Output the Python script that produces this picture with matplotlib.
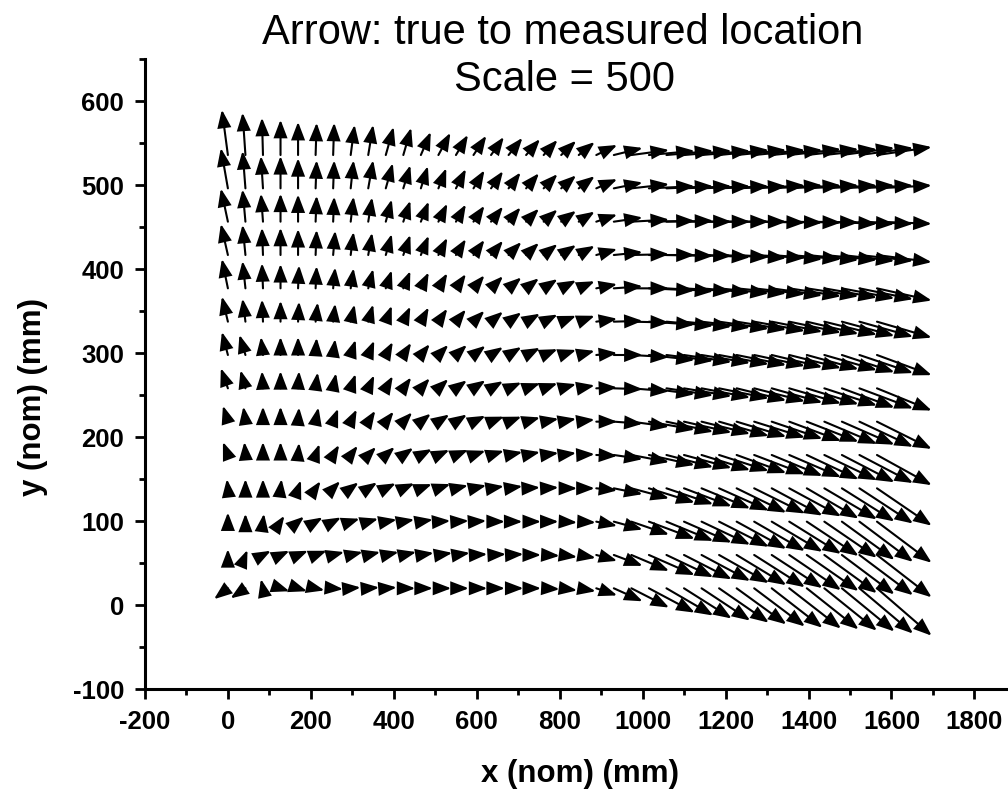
import numpy as np
import matplotlib
matplotlib.use('Agg')
import matplotlib.pyplot as plt
from matplotlib.patches import FancyArrowPatch

plt.rcParams['font.family'] = ['Liberation Sans', 'DejaVu Sans']
plt.rcParams['axes.unicode_minus'] = False

SCALE = 500  # arrows are drawn 500x the real offset

# nominal (true) grid, mm
x_true = [0.0, 42.3, 84.6, 126.9, 169.2, 211.5, 253.8, 296.1, 338.4, 380.7,
          423.0, 465.3, 507.6, 549.9, 592.2, 634.5, 676.8, 719.1, 761.4, 803.7,
          846.0, 888.3, 930.6, 972.9, 1015.2, 1057.5, 1099.8, 1142.1, 1184.4,
          1226.7, 1269.0, 1311.3, 1353.6, 1395.9, 1438.2, 1480.5, 1522.8, 1565.1]
y_true = [20.0, 59.7, 99.4, 139.1, 178.8, 218.5, 258.2, 297.9, 337.6, 377.3,
          417.0, 456.7, 496.4, 536.1]

# measured minus true, micrometres; one list per row, bottom row first
dx_um = [
    [-67, -72, -10, 43, 43, 43, 48, 48, 53, 53, 58, 58, 62, 62, 67, 67, 72, 72, 77, 77, 82,
     101, 139, 182, 221, 226, 230, 235, 240, 240, 245, 245, 250, 250, 254, 254, 259, 264],
    [0, 10, 38, 43, 48, 53, 53, 58, 58, 62, 62, 62, 67, 67, 67, 72, 72, 72, 77, 77, 82,
     101, 139, 182, 221, 226, 230, 235, 240, 240, 245, 245, 250, 250, 254, 254, 259, 264],
    [0, 0, 5, 19, 29, 34, 38, 43, 48, 53, 53, 58, 58, 62, 62, 67, 67, 72, 72, 77, 82,
     101, 139, 182, 221, 226, 230, 235, 240, 240, 245, 245, 250, 250, 254, 254, 259, 264],
    [-5, 0, 0, 5, 14, 24, 34, 38, 43, 48, 53, 53, 58, 58, 62, 62, 67, 67, 72, 77, 77,
     101, 139, 182, 221, 226, 230, 235, 240, 240, 245, 245, 250, 250, 254, 254, 259, 264],
    [-24, -5, 0, 0, 5, 19, 29, 34, 38, 43, 48, 53, 53, 58, 58, 62, 67, 67, 72, 72, 77,
     101, 139, 182, 221, 226, 230, 235, 240, 240, 245, 245, 250, 250, 254, 254, 259, 264],
    [-24, -10, 0, 0, 5, 14, 24, 29, 34, 38, 43, 48, 53, 53, 58, 62, 62, 67, 72, 72, 77,
     101, 139, 182, 221, 226, 230, 235, 240, 240, 245, 245, 250, 250, 254, 254, 259, 264],
    [-34, -24, -5, 0, 5, 10, 14, 24, 29, 34, 38, 43, 48, 53, 58, 58, 62, 67, 67, 72, 77,
     101, 139, 182, 221, 226, 230, 235, 240, 240, 245, 245, 250, 250, 254, 254, 259, 264],
    [-29, -29, -10, 0, 0, 5, 10, 24, 29, 34, 38, 43, 48, 53, 58, 58, 62, 67, 67, 72, 77,
     101, 139, 182, 221, 226, 230, 235, 240, 240, 245, 245, 250, 250, 254, 254, 259, 264],
    [-29, -14, -5, 0, 5, 10, 10, 19, 24, 29, 34, 38, 43, 48, 53, 58, 62, 67, 67, 72, 77,
     101, 139, 182, 221, 226, 230, 235, 240, 240, 245, 245, 250, 250, 254, 254, 259, 264],
    [-29, -14, -5, 0, 5, 5, 10, 14, 24, 29, 34, 38, 43, 48, 53, 58, 62, 62, 67, 72, 77,
     101, 139, 182, 221, 226, 230, 235, 240, 240, 245, 245, 250, 250, 254, 254, 259, 264],
    [-34, -14, -5, 0, 0, 5, 10, 14, 19, 29, 34, 38, 43, 48, 53, 58, 62, 62, 67, 72, 77,
     101, 139, 182, 221, 226, 230, 235, 240, 240, 245, 245, 250, 250, 254, 254, 259, 264],
    [-34, -14, -10, 0, 0, 5, 5, 14, 19, 29, 34, 38, 43, 48, 53, 58, 58, 62, 67, 72, 77,
     101, 139, 182, 221, 226, 230, 235, 240, 240, 245, 245, 250, 250, 254, 254, 259, 264],
    [-34, -14, -10, 0, 0, 5, 5, 14, 24, 34, 34, 34, 38, 48, 53, 58, 58, 62, 67, 72, 77,
     101, 139, 182, 221, 226, 230, 235, 240, 240, 245, 245, 250, 250, 254, 254, 259, 264],
    [-29, -14, -5, 0, 0, 5, 5, 19, 24, 38, 38, 48, 58, 58, 62, 62, 67, 67, 67, 72, 77,
     101, 139, 182, 221, 226, 230, 235, 240, 240, 245, 245, 250, 250, 254, 254, 259, 264],
]
dy_um = [
    [-26, -24, 22, -7, -7, -5, -2, 2, 2, 2, 0, 0, 0, 0, 0, 0, 0, 0, -2, -5, -7,
     -17, -31, -46, -58, -65, -72, -77, -82, -86, -91, -94, -96, -98, -101, -103, -108, -113],
    [14, 12, 10, 10, 10, 10, 7, 7, 7, 7, 7, 5, 5, 5, 2, 2, 2, 0, -2, -5, -7,
     -14, -26, -38, -48, -53, -58, -62, -67, -72, -77, -79, -84, -86, -91, -94, -96, -101],
    [22, 19, 19, 14, 12, 10, 10, 7, 7, 5, 5, 5, 2, 2, 2, 0, 0, 0, 0, -2, -2,
     -10, -19, -31, -41, -46, -50, -55, -60, -65, -70, -72, -77, -82, -86, -91, -96, -98],
    [22, 22, 22, 22, 19, 17, 17, 14, 14, 12, 12, 10, 10, 7, 7, 5, 5, 2, 2, 0, 0,
     -5, -14, -24, -34, -38, -43, -48, -53, -58, -60, -65, -67, -72, -74, -79, -84, -89],
    [31, 31, 31, 31, 29, 26, 24, 22, 19, 19, 17, 14, 12, 12, 10, 10, 7, 7, 5, 5, 2,
     -2, -10, -17, -24, -29, -31, -36, -38, -43, -46, -50, -53, -58, -60, -65, -67, -72],
    [38, 36, 36, 36, 34, 34, 31, 29, 26, 24, 22, 19, 17, 17, 14, 12, 12, 10, 7, 7, 5,
     0, -5, -12, -19, -24, -26, -29, -34, -36, -38, -41, -46, -48, -53, -55, -60, -65],
    [48, 43, 41, 41, 41, 38, 36, 34, 31, 29, 26, 24, 22, 19, 19, 17, 14, 12, 12, 10, 7,
     2, -2, -7, -14, -17, -19, -22, -24, -29, -31, -34, -36, -38, -41, -46, -48, -53],
    [55, 48, 43, 43, 43, 41, 38, 36, 34, 31, 29, 26, 24, 24, 22, 19, 19, 17, 14, 12, 10,
     5, 0, -5, -12, -14, -17, -19, -22, -24, -26, -29, -31, -34, -36, -41, -43, -48],
    [60, 55, 53, 50, 48, 46, 43, 41, 41, 38, 36, 34, 31, 29, 26, 24, 22, 19, 17, 14, 14,
     7, 2, -2, -7, -10, -12, -14, -17, -19, -22, -24, -26, -29, -31, -34, -36, -38],
    [70, 65, 60, 58, 55, 53, 50, 48, 46, 43, 41, 38, 36, 34, 31, 29, 26, 24, 22, 19, 17,
     10, 5, 0, -5, -7, -7, -10, -12, -12, -14, -17, -19, -19, -22, -24, -26, -29],
    [74, 72, 65, 65, 62, 60, 58, 55, 53, 50, 48, 46, 41, 38, 36, 34, 31, 29, 26, 24, 22,
     14, 7, 2, 0, -2, -2, -5, -5, -7, -7, -10, -10, -12, -12, -14, -14, -17],
    [79, 77, 67, 67, 65, 62, 60, 60, 58, 53, 50, 48, 43, 41, 38, 36, 34, 31, 29, 26, 24,
     17, 10, 5, 2, 2, 0, 0, 0, 0, -2, -2, -2, -2, -5, -5, -5, -5],
    [96, 89, 77, 77, 72, 67, 67, 67, 67, 60, 55, 53, 48, 46, 43, 41, 38, 36, 34, 31, 29,
     22, 14, 10, 5, 5, 5, 5, 5, 5, 7, 7, 7, 7, 7, 7, 7, 7],
    [108, 101, 89, 84, 79, 77, 77, 72, 72, 67, 65, 55, 53, 48, 46, 43, 41, 38, 36, 34, 31,
     24, 17, 12, 10, 10, 10, 10, 12, 12, 12, 12, 14, 14, 14, 17, 17, 19],
]

fig = plt.figure(figsize=(10.08, 7.89), dpi=100)
ax = fig.add_axes([0.1438, 0.1267, 0.864, 0.798])

for j, y0 in enumerate(y_true):
    for i, x0 in enumerate(x_true):
        u = dx_um[j][i] * 1e-3 * SCALE
        v = dy_um[j][i] * 1e-3 * SCALE
        arr = FancyArrowPatch((x0, y0), (x0 + u, y0 + v),
                              arrowstyle='-|>,head_length=0.5,head_width=0.19',
                              mutation_scale=21, lw=1.5, color='black',
                              shrinkA=0, shrinkB=0, joinstyle='miter')
        ax.add_patch(arr)

ax.set_xlim(-200, 1900)
ax.set_ylim(-100, 650)
ax.set_xticks(np.arange(-200, 1801, 200))
ax.set_xticks(np.arange(-200, 1901, 100), minor=True)
ax.set_yticks(np.arange(-100, 601, 100))
ax.set_yticks(np.arange(-100, 651, 50), minor=True)

for s in ['top', 'right']:
    ax.spines[s].set_visible(False)
for s in ['left', 'bottom']:
    ax.spines[s].set_linewidth(2.2)

ax.tick_params(which='major', direction='out', length=7, width=2.0,
               labelsize=18.5, pad=8)
ax.tick_params(which='minor', direction='out', length=4, width=2.0)
for lab in ax.get_xticklabels() + ax.get_yticklabels():
    lab.set_fontweight('bold')

ax.set_xlabel('x (nom) (mm)', fontsize=22.5, fontweight='bold', labelpad=18)
ax.set_ylabel('y (nom) (mm)', fontsize=22.5, fontweight='bold')
ax.yaxis.set_label_coords(-0.111, 0.4635)

fig.text(0.5585, 1 - 33 / 789, 'Arrow: true to measured location',
         fontsize=30, ha='center', va='center')
fig.text(0.5605, 1 - 80 / 789, 'Scale = 500', fontsize=30,
         ha='center', va='center')

fig.savefig('out.png', dpi=100)
